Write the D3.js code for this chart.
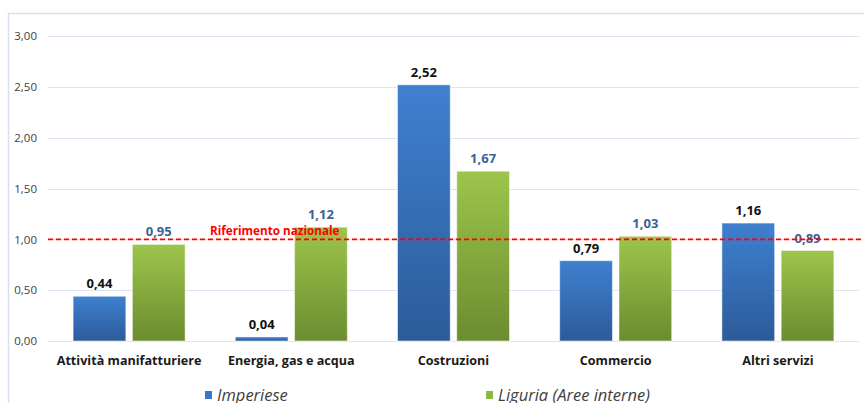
<!DOCTYPE html>
<html>
<head>
<meta charset="utf-8">
<script src="https://cdn.jsdelivr.net/npm/d3@7"></script>
<style>
  body { margin: 0; background: #fff; }
  svg { display: block; font-family: "Open Sans", sans-serif; }
</style>
</head>
<body>
<div id="chart"></div>
<script>
var width = 864, height = 403;

// data
var categories = ["Attività manifatturiere", "Energia, gas e acqua", "Costruzioni", "Commercio", "Altri servizi"];
var imperiese = [0.44, 0.04, 2.52, 0.79, 1.16];
var liguria = [0.95, 1.12, 1.67, 1.03, 0.89];
var seriesNames = ["Imperiese", "Liguria (Aree interne)"];
var yTicks = [0, 0.5, 1, 1.5, 2, 2.5, 3];
var riferimento = 1.0;

var fmt = function(v){ return d3.format(".2f")(v).replace(".", ","); };

var svg = d3.select("#chart").append("svg")
    .attr("width", width)
    .attr("height", height);

var defs = svg.append("defs");
var gb = defs.append("linearGradient").attr("id", "gBlue").attr("x1", 0).attr("y1", 0).attr("x2", 0).attr("y2", 1);
gb.append("stop").attr("offset", "0%").attr("stop-color", "#3f80d0");
gb.append("stop").attr("offset", "100%").attr("stop-color", "#2c5b9a");
var gg = defs.append("linearGradient").attr("id", "gGreen").attr("x1", 0).attr("y1", 0).attr("x2", 0).attr("y2", 1);
gg.append("stop").attr("offset", "0%").attr("stop-color", "#9dc54b");
gg.append("stop").attr("offset", "100%").attr("stop-color", "#6b8c30");

// chart frame
svg.append("path")
    .attr("d", "M8.5," + height + "V13.5H" + width)
    .attr("fill", "none")
    .attr("stroke", "#d6e1ef")
    .attr("stroke-width", 1.5);

var x0 = d3.scaleBand().domain(categories).range([48, 859]);
var x1 = d3.scaleBand().domain(seriesNames).range([0, 112]).paddingInner(0.11);
var y = d3.scaleLinear().domain([0, 3]).range([341, 36]);

// gridlines
svg.append("g").selectAll("line").data(yTicks).join("line")
    .attr("x1", 48).attr("x2", 859)
    .attr("y1", function(d){ return Math.round(y(d)) + 0.5; })
    .attr("y2", function(d){ return Math.round(y(d)) + 0.5; })
    .attr("stroke", "#dce6f3")
    .attr("stroke-width", 1.2);

// y axis labels
var yAxis = d3.axisLeft(y).tickValues(yTicks).tickFormat(fmt).tickSize(0).tickPadding(0);
var ya = svg.append("g").attr("transform", "translate(37,0)").call(yAxis);
ya.select(".domain").remove();
ya.selectAll("text")
    .attr("font-family", "Open Sans, sans-serif")
    .attr("font-size", 11.5)
    .attr("fill", "#404040");

var groups = svg.append("g").selectAll("g").data(categories).join("g")
    .attr("transform", function(d){ return "translate(" + (x0(d) + x0.bandwidth() / 2 - 56) + ",0)"; });

var allSeries = [
  { name: seriesNames[0], values: imperiese, fill: "url(#gBlue)", label: "#111111" },
  { name: seriesNames[1], values: liguria, fill: "url(#gGreen)", label: "#3a6293" }
];

allSeries.forEach(function(s){
  groups.append("rect")
      .attr("x", x1(s.name))
      .attr("width", x1.bandwidth())
      .attr("y", function(d, i){ return y(s.values[i]); })
      .attr("height", function(d, i){ return y(0) - y(s.values[i]); })
      .attr("fill", s.fill)
      .attr("stroke", "#ffffff")
      .attr("stroke-opacity", 0.5)
      .attr("stroke-width", 1);
  groups.append("text")
      .attr("x", x1(s.name) + x1.bandwidth() / 2)
      .attr("y", function(d, i){ return y(s.values[i]) - 8; })
      .attr("text-anchor", "middle")
      .attr("font-size", 13)
      .attr("font-weight", "bold")
      .attr("fill", s.label)
      .text(function(d, i){ return fmt(s.values[i]); });
});

// national reference line
svg.append("line")
    .attr("x1", 48).attr("x2", width)
    .attr("y1", y(riferimento)).attr("y2", y(riferimento))
    .attr("stroke", "#ff0000")
    .attr("stroke-width", 1.6)
    .attr("stroke-dasharray", "5,3");
svg.append("text")
    .attr("x", 210)
    .attr("y", y(riferimento) - 4)
    .attr("font-size", 11.7)
    .attr("font-weight", "bold")
    .attr("fill", "#ff0000")
    .text("Riferimento nazionale");

// category labels
svg.append("g").selectAll("text").data(categories).join("text")
    .attr("x", function(d){ return x0(d) + x0.bandwidth() / 2; })
    .attr("y", 365)
    .attr("text-anchor", "middle")
    .attr("font-size", 12.6)
    .attr("font-weight", "bold")
    .attr("fill", "#1a1a1a")
    .text(function(d){ return d; });

// legend
var legendX = [205, 486];
var legendFill = ["#3a78c6", "#8db843"];
var lg = svg.append("g").selectAll("g").data(seriesNames).join("g")
    .attr("transform", function(d, i){ return "translate(" + legendX[i] + ",391)"; });
lg.append("rect").attr("width", 7).attr("height", 8).attr("fill", function(d, i){ return legendFill[i]; });
lg.append("text")
    .attr("x", 12).attr("y", 10)
    .attr("font-size", 16.5)
    .attr("font-style", "italic")
    .attr("fill", "#404040")
    .text(function(d){ return d; });
</script>
</body>
</html>
